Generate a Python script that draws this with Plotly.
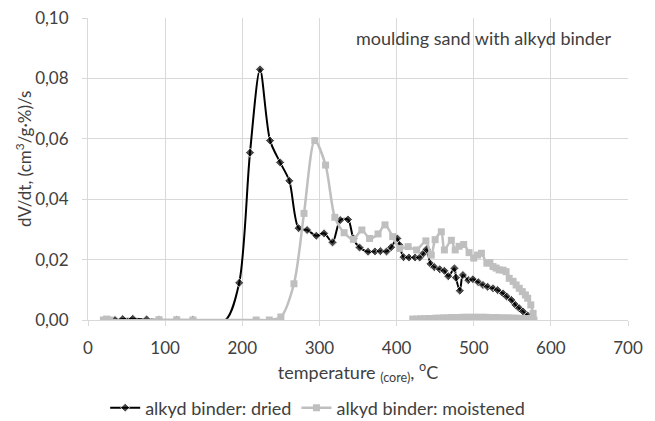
import plotly.graph_objects as go

# ---- data ----
dried_temp = [28, 35, 45, 58, 76, 92, 115, 136, 178, 196, 210, 223, 236, 249, 261, 273, 284,
              296, 306, 317, 327, 337, 344, 352, 363, 372, 379, 387, 393, 401, 404, 409,
              416, 424, 430, 435, 439, 444, 449, 456, 462, 467, 475, 477, 482, 486, 493,
              499, 506, 512, 518, 525, 531, 538, 543, 549, 554, 559, 564, 570, 576, 577]
dried_val = [0.0, 0.0, 0.0003, 0.0004, 0.0002, 0.0, 0.0, 0.0, 0.0, 0.0123, 0.0554, 0.0830,
             0.0594, 0.0522, 0.0461, 0.0304, 0.0298, 0.0279, 0.0287, 0.0257, 0.0331,
             0.0333, 0.0270, 0.0240, 0.0226, 0.0227, 0.0228, 0.0227, 0.0241, 0.0270,
             0.0248, 0.0208, 0.0207, 0.0207, 0.0207, 0.0221, 0.0234, 0.0186, 0.0175,
             0.0168, 0.0163, 0.0145, 0.0171, 0.0140, 0.0097, 0.0149, 0.0132, 0.0135,
             0.0125, 0.0116, 0.0110, 0.0105, 0.0099, 0.0088, 0.0077, 0.0066, 0.0050,
             0.0039, 0.0028, 0.0015, 0.0005, 0.0]
# temperature where the smoothed curve leaves zero (no marker drawn there)
dried_unmarked_temp = [178]

moist_temp = [20, 24, 28, 92, 115, 136, 218, 235, 250, 267, 280, 294, 308, 320, 332, 344,
              355, 365, 376, 385, 395, 404, 415, 426, 438, 445, 450, 458, 462, 471, 476,
              481, 487, 494, 500, 505, 510, 517, 521, 525, 529, 533, 538, 542, 546, 551,
              555, 559, 563, 567, 570, 574, 577, 578,
              575, 571, 566, 561, 556, 551, 546, 541, 536, 531, 526, 521, 516, 511, 506,
              501, 496, 491, 486, 481, 476, 471, 466, 461, 456, 451, 446, 441, 436, 431,
              426, 421]
moist_val = [0.0, 0.0003, 0.0, 0.0001, 0.0001, 0.0, 0.0, 0.0, 0.0010, 0.0120, 0.0353,
             0.0594, 0.0513, 0.0340, 0.0289, 0.0267, 0.0298, 0.0270, 0.0285, 0.0315,
             0.0276, 0.0237, 0.0243, 0.0232, 0.0262, 0.0215, 0.0266, 0.0292, 0.0232,
             0.0264, 0.0232, 0.0244, 0.0250, 0.0223, 0.0205, 0.0215, 0.0221, 0.0188,
             0.0190, 0.0177, 0.0172, 0.0166, 0.0165, 0.0160, 0.0138, 0.0128, 0.0116,
             0.0105, 0.0094, 0.0083, 0.0072, 0.0050, 0.0022, 0.0,
             0.0004, 0.0005, 0.0005, 0.0005, 0.0006, 0.0006, 0.0007, 0.0007, 0.0007,
             0.0008, 0.0008, 0.0008, 0.0009, 0.0009, 0.0009, 0.0009, 0.0009, 0.0009,
             0.0009, 0.0008, 0.0008, 0.0008, 0.0007, 0.0007, 0.0006, 0.0006, 0.0005,
             0.0005, 0.0004, 0.0004, 0.0003, 0.0003]

x_ticks = [0, 100, 200, 300, 400, 500, 600, 700]
y_ticks = [0.0, 0.02, 0.04, 0.06, 0.08, 0.10]

FONT = "Lato"
TXT = "#404040"
GRID = "#d9d9d9"
BLACK = "black"
GREY = "#bfbfbf"

dried_marker_size = [0 if t in dried_unmarked_temp else 7 for t in dried_temp]

fig = go.Figure()
fig.add_trace(go.Scatter(
    x=dried_temp, y=dried_val, name="alkyd binder: dried",
    mode="lines+markers",
    line=dict(color=BLACK, width=2, shape="spline", smoothing=0.8),
    marker=dict(symbol="diamond", size=dried_marker_size, color=BLACK),
))
fig.add_trace(go.Scatter(
    x=moist_temp, y=moist_val, name="alkyd binder: moistened",
    mode="lines+markers",
    line=dict(color=GREY, width=2.5, shape="spline", smoothing=0.8),
    marker=dict(symbol="square", size=7, color=GREY),
))

fig.update_layout(
    width=655, height=421,
    margin=dict(l=88, r=27, t=18, b=101, autoexpand=False),
    paper_bgcolor="white", plot_bgcolor="white",
    font=dict(family=FONT, size=17, color=TXT),
    separators=", ",
    showlegend=True,
    legend=dict(orientation="h", xref="container", yref="container",
                x=0.485, xanchor="center", y=0.031, yanchor="middle",
                font=dict(size=18, color=TXT), itemwidth=30, tracegroupgap=0,
                bgcolor="rgba(0,0,0,0)"),
    annotations=[
        dict(text="moulding sand with alkyd binder", x=1, xref="paper",
             xanchor="right", y=0.934, yref="paper", yanchor="middle",
             showarrow=False, font=dict(size=18, color=TXT), xshift=-15),
        dict(text="dV/dt, (cm<sup>3</sup>/g·%)/s", textangle=-90,
             x=-0.1204, xref="paper", xanchor="center",
             y=0.533, yref="paper", yanchor="middle",
             showarrow=False, font=dict(size=17, color=TXT)),
    ],
)
fig.update_xaxes(range=[0, 700], tickvals=x_ticks, showgrid=True, gridcolor=GRID,
                 gridwidth=1, showline=True, linecolor=GRID, ticks="outside",
                 ticklen=5, tickcolor=GRID, zeroline=False, automargin=False,
                 ticklabelstandoff=8,
                 tickfont=dict(size=17, color=TXT),
                 title=dict(text="temperature <sub>(core)</sub>, <sup>o</sup>C",
                            standoff=8, font=dict(size=18, color=TXT)))
fig.update_yaxes(range=[0, 0.1], tickvals=y_ticks, tickformat=".2f", showgrid=True,
                 gridcolor=GRID, gridwidth=1, showline=True, linecolor=GRID,
                 ticks="outside", ticklen=5, tickcolor=GRID, zeroline=False,
                 automargin=False, ticklabelstandoff=10,
                 tickfont=dict(size=17, color=TXT))

fig.write_html("out.html", config={"displayModeBar": False},
               post_script="document.body.style.margin='0';")
